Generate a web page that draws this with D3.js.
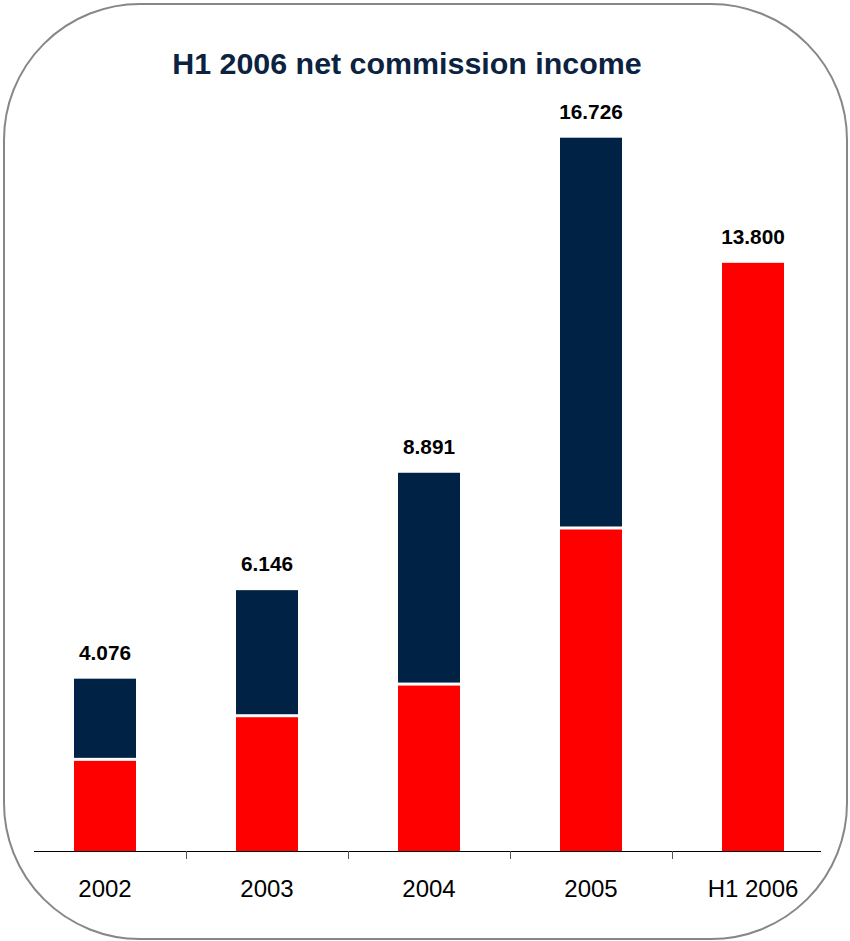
<!DOCTYPE html>
<html>
<head>
<meta charset="utf-8">
<script src="https://cdn.jsdelivr.net/npm/d3@7"></script>
<style>
  html, body { margin: 0; padding: 0; background: #fff; }
  svg { display: block; }
  text { font-family: Arial, "Liberation Sans", Helvetica, sans-serif; }
</style>
</head>
<body>
<svg id="chart" width="850" height="941"></svg>
<script>
// Net commission income by period (first half shown in red, second half in navy)
const categories = ["2002", "2003", "2004", "2005", "H1 2006"];
const totals = [4.076, 6.146, 8.891, 16.726, 13.800];
const firstHalf = [2.19, 3.21, 3.95, 7.60, 13.800];
const totalLabels = ["4.076", "6.146", "8.891", "16.726", "13.800"];

const svg = d3.select("#chart");

// rounded frame
svg.append("rect")
  .attr("x", 4).attr("y", 4)
  .attr("width", 843).attr("height", 935)
  .attr("rx", 136).attr("ry", 136)
  .attr("fill", "#fff")
  .attr("stroke", "#878787")
  .attr("stroke-width", 2);

// title
svg.append("text")
  .attr("x", 407).attr("y", 74)
  .attr("text-anchor", "middle")
  .attr("font-size", 30.4)
  .attr("font-weight", "bold")
  .attr("fill", "#0b2340")
  .text("H1 2006 net commission income");

const axisY = 851;
const x = d3.scaleBand()
  .domain(categories)
  .range([24, 834])
  .paddingInner(100 / 162)
  .paddingOuter(50 / 162);

// value scale; bars are cut off at the axis line
const y = d3.scaleLinear()
  .domain([0, 16.726])
  .range([853, 137.7]);

const rows = categories.map((c, i) => ({
  cat: c, total: totals[i], h1: firstHalf[i], label: totalLabels[i]
}));

const g = svg.append("g");

// second-half (upper) segment
g.selectAll("rect.upper")
  .data(rows.filter(d => d.total > d.h1))
  .join("rect")
  .attr("class", "upper")
  .attr("x", d => x(d.cat))
  .attr("width", x.bandwidth())
  .attr("y", d => y(d.total))
  .attr("height", d => y(d.h1) - y(d.total) - 1.5)
  .attr("fill", "#002244");

// first-half (lower) segment
g.selectAll("rect.lower")
  .data(rows)
  .join("rect")
  .attr("class", "lower")
  .attr("x", d => x(d.cat))
  .attr("width", x.bandwidth())
  .attr("y", d => y(d.h1) + (d.total > d.h1 ? 1.5 : 0))
  .attr("height", d => axisY - y(d.h1) - (d.total > d.h1 ? 1.5 : 0))
  .attr("fill", "#ff0000");

// value labels above bars
g.selectAll("text.val")
  .data(rows)
  .join("text")
  .attr("class", "val")
  .attr("x", d => x(d.cat) + x.bandwidth() / 2)
  .attr("y", d => y(d.total) - 19)
  .attr("text-anchor", "middle")
  .attr("font-size", 20.8)
  .attr("font-weight", "bold")
  .attr("fill", "#000")
  .text(d => d.label);

// category axis
const axisG = svg.append("g");
axisG.append("line")
  .attr("x1", 34).attr("x2", 821)
  .attr("y1", axisY + 0.5).attr("y2", axisY + 0.5)
  .attr("stroke", "#000").attr("stroke-width", 1);

const step = x.step();
const boundaries = categories.slice(1).map(c => x(c) - (step - x.bandwidth()) / 2);
axisG.selectAll("line.tick")
  .data(boundaries)
  .join("line")
  .attr("class", "tick")
  .attr("x1", d => Math.round(d) + 0.5).attr("x2", d => Math.round(d) + 0.5)
  .attr("y1", axisY).attr("y2", axisY + 8)
  .attr("stroke", "#555").attr("stroke-width", 1);

axisG.selectAll("text.cat")
  .data(categories)
  .join("text")
  .attr("class", "cat")
  .attr("x", d => x(d) + x.bandwidth() / 2)
  .attr("y", 897)
  .attr("text-anchor", "middle")
  .attr("font-size", 24)
  .attr("fill", "#000")
  .text(d => d);
</script>
</body>
</html>
